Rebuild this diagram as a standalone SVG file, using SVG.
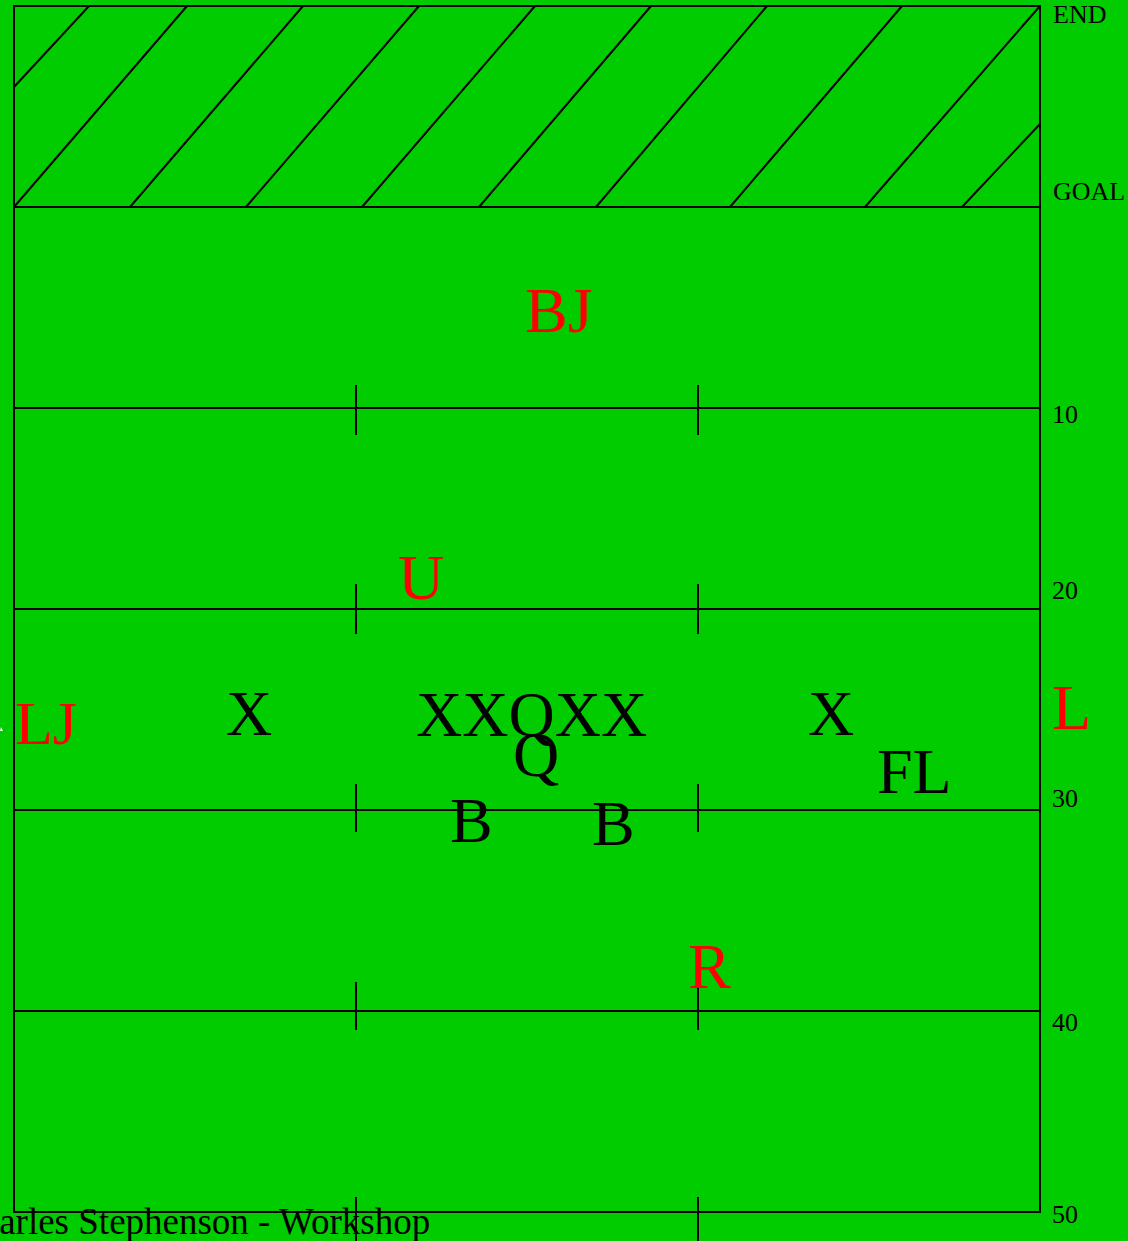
<svg xmlns="http://www.w3.org/2000/svg" width="1128" height="1241" viewBox="0 0 1128 1241">
<style>
.ln{stroke:#000;stroke-width:2;fill:none}
.t{font-family:"Liberation Serif","Times New Roman",serif}
.sm{font-size:26px;fill:#000}
.big{font-size:64px}
.red{fill:#ff0000}
.blk{fill:#000}
</style>
<rect x="0" y="0" width="1128" height="1241" fill="#00cc00"/>
<g id="field">
<rect class="ln" x="14" y="6" width="1026" height="1206"/>
<g id="endzone-hatch">
<line class="ln" x1="14" y1="87" x2="89" y2="6"/>
<line class="ln" x1="14" y1="207" x2="187" y2="6"/>
<line class="ln" x1="130" y1="207" x2="303" y2="6"/>
<line class="ln" x1="246" y1="207" x2="419" y2="6"/>
<line class="ln" x1="362" y1="207" x2="535" y2="6"/>
<line class="ln" x1="479" y1="207" x2="651" y2="6"/>
<line class="ln" x1="596" y1="207" x2="767" y2="6"/>
<line class="ln" x1="730" y1="207" x2="902" y2="6"/>
<line class="ln" x1="865" y1="207" x2="1040" y2="6"/>
<line class="ln" x1="962" y1="207" x2="1040" y2="124"/>
</g>
<g id="yard-lines">
<line class="ln" x1="14" y1="207" x2="1040" y2="207"/>
<line class="ln" x1="14" y1="408" x2="1040" y2="408"/>
<line class="ln" x1="14" y1="609" x2="1040" y2="609"/>
<line class="ln" x1="14" y1="810" x2="1040" y2="810"/>
<line class="ln" x1="14" y1="1011" x2="1040" y2="1011"/>
</g>
<g id="hash-marks">
<line class="ln" x1="356" y1="385" x2="356" y2="435"/>
<line class="ln" x1="698" y1="385" x2="698" y2="435"/>
<line class="ln" x1="356" y1="584" x2="356" y2="634"/>
<line class="ln" x1="698" y1="584" x2="698" y2="634"/>
<line class="ln" x1="356" y1="784" x2="356" y2="832"/>
<line class="ln" x1="698" y1="784" x2="698" y2="832"/>
<line class="ln" x1="356" y1="982" x2="356" y2="1030"/>
<line class="ln" x1="698" y1="982" x2="698" y2="1030"/>
<line class="ln" x1="356" y1="1197" x2="356" y2="1241"/>
<line class="ln" x1="698" y1="1197" x2="698" y2="1241"/>
</g>
</g>
<g id="yard-labels" class="t sm">
<text x="1053" y="23">END</text>
<text x="1053" y="200">GOAL</text>
<text x="1052" y="423">10</text>
<text x="1052" y="599">20</text>
<text x="1052" y="807">30</text>
<text x="1052" y="1031">40</text>
<text x="1052" y="1223">50</text>
</g>
<g id="defense" class="t big red">
<text id="BJ" x="525" y="332">BJ</text>
<text id="U" x="398" y="599">U</text>
<text id="LJ" x="15" y="744" font-size="62">LJ</text>
<text id="L" x="1052" y="729">L</text>
<text id="R" x="688" y="988">R</text>
</g>
<g id="offense" class="t big blk">
<text id="X1" x="226" y="735">X</text>
<text id="line" x="416" y="736">XXQXX</text>
<text id="X2" x="808" y="735">X</text>
<text id="Q" x="513" y="776">Q</text>
<text id="FL" x="877" y="793">FL</text>
<text id="B1" x="450" y="842">B</text>
<text id="B2" x="592" y="845">B</text>
</g>
<polygon points="1,727 3,731 0,731" fill="#ffffff"/>
<text class="t" x="-44" y="1234" font-size="37" fill="#000">Charles Stephenson - Workshop</text>
</svg>
